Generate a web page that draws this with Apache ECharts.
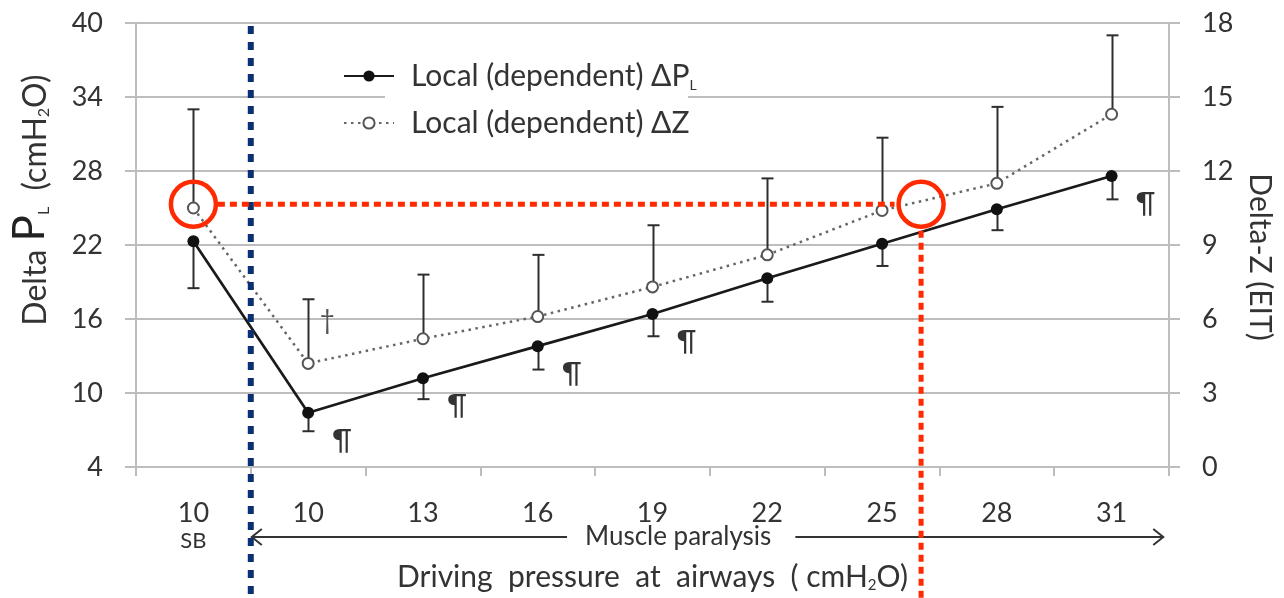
<!DOCTYPE html>
<html>
<head>
<meta charset="utf-8">
<title>Delta PL and Delta-Z versus driving pressure</title>
<script src="https://cdn.jsdelivr.net/npm/echarts@6/dist/echarts.min.js"></script>
<style>
  html, body { margin: 0; padding: 0; background: #ffffff; }
  #chart { width: 1284px; height: 598px; }
</style>
</head>
<body>
<div id="chart"></div>
<script>
// Driving pressure steps (cmH2O); the first one is spontaneous breathing
const pressureLabels = ['10', '10', '13', '16', '19', '22', '25', '28', '31'];
const phaseLabels = ['SB', '', '', '', '', '', '', '', ''];

// Local (dependent) transpulmonary pressure swing, mean and lower SD end
const deltaPL = [22.3, 8.4, 11.2, 13.8, 16.4, 19.3, 22.1, 24.9, 27.6];
const deltaPLLower = [18.5, 6.9, 9.5, 11.9, 14.6, 17.4, 20.3, 23.2, 25.7];

// Local (dependent) impedance change (EIT), mean and upper SD end
const deltaZ = [10.5, 4.2, 5.2, 6.1, 7.3, 8.6, 10.4, 11.5, 14.3];
const deltaZUpper = [14.5, 6.8, 7.8, 8.6, 9.8, 11.7, 13.35, 14.6, 17.5];

// Significance marks
const pilcrowMarks = ['', '¶', '¶', '¶', '¶', '', '', '', '¶'];
const daggerMarks = ['', '†', '', '', '', '', '', '', ''];

// Axis ticks
const leftTicks = [4, 10, 16, 22, 28, 34, 40];
const rightTicks = [0, 3, 6, 9, 12, 15, 18];

// Guide annotations (category positions and Delta-Z level)
const paralysisStart = 0.5;
const paralysisArrowEnd = 8.45;
const paralysisTextPos = 4.25;
const matchedDeltaZ = 10.65;
const matchedPositions = [0, 6.34];

const namePL = 'Local (dependent) ΔPL';
const nameZ = 'Local (dependent) ΔZ';
const FONT = 'Lato, "Open Sans", "DejaVu Sans", sans-serif';
const TEXT = '#333333';
const GRID = '#bdbdbd';

const chart = echarts.init(document.getElementById('chart'), null, { renderer: 'canvas' });

function errorBars(yAxisIndex, means, ends) {
  return {
    type: 'custom',
    xAxisIndex: 0,
    yAxisIndex: yAxisIndex,
    silent: true,
    z: 2,
    data: means.map((v, i) => [i, v, ends[i]]),
    renderItem(params, api) {
      const a = api.coord([api.value(0), api.value(1)]);
      const b = api.coord([api.value(0), api.value(2)]);
      const x = Math.round(a[0]) + 0.5;
      const half = 6;
      const st = { stroke: '#2e2e2e', lineWidth: 2 };
      return {
        type: 'group',
        children: [
          { type: 'line', shape: { x1: x, y1: a[1], x2: x, y2: b[1] }, style: st },
          { type: 'line', shape: { x1: x - half, y1: b[1], x2: x + half, y2: b[1] }, style: st }
        ]
      };
    }
  };
}

function marks(yAxisIndex, means, symbols, dx, dy, size, color) {
  return {
    type: 'custom',
    xAxisIndex: 0,
    yAxisIndex: yAxisIndex,
    silent: true,
    z: 3,
    data: means.map((v, i) => [i, v]),
    renderItem(params, api) {
      const s = symbols[params.dataIndex];
      if (!s) return null;
      const p = api.coord([api.value(0), api.value(1)]);
      return {
        type: 'text',
        x: p[0] + dx,
        y: p[1] + dy,
        style: {
          text: s, fill: color, fontSize: size, fontFamily: FONT,
          align: 'center', verticalAlign: 'middle'
        }
      };
    }
  };
}

const guides = {
  type: 'custom',
  xAxisIndex: 1,
  yAxisIndex: 1,
  silent: true,
  clip: false,
  z: 6,
  data: [[0]],
  renderItem(params, api) {
    const cs = params.coordSys;
    const H = api.getHeight();
    const R = 22.5;
    const c0 = api.coord([matchedPositions[0], matchedDeltaZ]);
    const c1 = api.coord([matchedPositions[1], matchedDeltaZ]);
    const bx = api.coord([paralysisStart, 0])[0];
    const ex = api.coord([paralysisArrowEnd, 0])[0];
    const tx = api.coord([paralysisTextPos, 0])[0];
    const axisY = cs.y + cs.height;
    const ay = axisY + 70;
    const red = '#ff2a00';
    const arrow = { stroke: '#333333', lineWidth: 2, fill: null };
    return {
      type: 'group',
      children: [
        // paralysis timeline arrow
        { type: 'line', shape: { x1: bx + 1, y1: ay, x2: ex, y2: ay }, style: arrow },
        { type: 'polyline', shape: { points: [[bx + 11, ay - 8], [bx + 1, ay], [bx + 11, ay + 8]] }, style: arrow },
        { type: 'polyline', shape: { points: [[ex - 10, ay - 8], [ex, ay], [ex - 10, ay + 8]] }, style: arrow },
        {
          type: 'text', x: tx, y: ay,
          style: {
            text: 'Muscle paralysis', fill: TEXT, fontSize: 26, fontFamily: FONT,
            align: 'center', verticalAlign: 'middle',
            backgroundColor: '#ffffff', padding: [2, 24, 2, 18]
          }
        },
        // onset of paralysis
        { type: 'line', shape: { x1: bx, y1: cs.y + 3, x2: bx, y2: H }, style: { stroke: '#0b2f73', lineWidth: 6, lineDash: [8, 8] } },
        // matched Delta-Z level
        { type: 'line', shape: { x1: c0[0] + R + 2, y1: c0[1], x2: c1[0] - R - 4, y2: c1[1] }, style: { stroke: red, lineWidth: 5, lineDash: [7, 5] } },
        { type: 'line', shape: { x1: c1[0], y1: c1[1] + R + 4, x2: c1[0], y2: H }, style: { stroke: red, lineWidth: 5, lineDash: [7, 5] } },
        { type: 'circle', shape: { cx: c0[0], cy: c0[1], r: R }, style: { stroke: red, lineWidth: 4.5, fill: null } },
        { type: 'circle', shape: { cx: c1[0], cy: c1[1], r: R }, style: { stroke: red, lineWidth: 4.5, fill: null } }
      ]
    };
  }
};

const option = {
  animation: false,
  backgroundColor: '#ffffff',
  textStyle: { fontFamily: FONT },
  grid: { left: 133, right: 115, top: 23, bottom: 127, containLabel: false },
  graphic: [
    { type: 'rect', z: 1, shape: { x: 385, y: 88, width: 303, height: 18 }, style: { fill: '#ffffff' } }
  ],
  legend: {
    data: [namePL, nameZ],
    orient: 'vertical',
    left: 343,
    top: 60,
    padding: 0,
    itemWidth: 50,
    itemHeight: 14,
    itemGap: 15,
    z: 5,
    selectedMode: false,
    formatter: name => name === namePL ? '{g|}Local (dependent) ΔP{sub|L}' : '{g|}' + name,
    textStyle: {
      fontSize: 30, color: TEXT, fontFamily: FONT, lineHeight: 32,
      rich: {
        g: { width: 12 },
        sub: { fontSize: 14, lineHeight: 14, verticalAlign: 'bottom', fontFamily: FONT, color: TEXT }
      }
    }
  },
  xAxis: [
    {
      type: 'category',
      data: pressureLabels.map((p, i) => phaseLabels[i] ? p + '\n' + phaseLabels[i] : p),
      boundaryGap: true,
      axisLine: { show: true, lineStyle: { color: GRID, width: 2 } },
      axisTick: { show: true, length: 9, interval: 0, lineStyle: { color: GRID, width: 2 } },
      splitLine: { show: false },
      axisLabel: {
        interval: 0,
        margin: 31,
        formatter: v => {
          const parts = v.split('\n');
          return parts.length > 1 ? '{n|' + parts[0] + '}\n{s|' + parts[1] + '}' : '{n|' + v + '}';
        },
        rich: {
          n: { fontSize: 27, lineHeight: 30, color: TEXT, fontFamily: FONT },
          s: { fontSize: 22, lineHeight: 26, color: TEXT, fontFamily: FONT }
        }
      },
      name: 'Driving  pressure  at  airways  ( cmH{sub|2}O)',
      nameLocation: 'middle',
      nameGap: 94,
      nameTextStyle: {
        fontSize: 30, color: TEXT, fontFamily: FONT, lineHeight: 32,
        rich: { sub: { fontSize: 15, lineHeight: 15, verticalAlign: 'bottom', color: TEXT, fontFamily: FONT } }
      }
    },
    { type: 'value', min: -0.5, max: 8.5, show: false }
  ],
  yAxis: [
    {
      type: 'value',
      position: 'left',
      min: 4, max: 40, interval: 6,
      axisLine: { show: true, onZero: false, lineStyle: { color: GRID, width: 2 } },
      axisTick: { show: true, length: 11, customValues: leftTicks, lineStyle: { color: GRID, width: 2 } },
      splitLine: { show: true, lineStyle: { color: GRID, width: 2 } },
      axisLabel: { customValues: leftTicks, margin: 33, fontSize: 27, color: TEXT, fontFamily: FONT },
      name: '{n|Delta }{p|P}{sub|L}{n|  (cmH}{sub|2}{n|O)}',
      nameLocation: 'middle',
      nameRotate: 90,
      nameGap: 84,
      nameTextStyle: {
        padding: [0, 0, 0, 90],
        rich: {
          n: { fontSize: 32, lineHeight: 36, verticalAlign: 'bottom', color: TEXT, fontFamily: FONT },
          p: { fontSize: 44, lineHeight: 44, verticalAlign: 'bottom', color: '#222', fontFamily: FONT },
          sub: { fontSize: 16, lineHeight: 16, verticalAlign: 'bottom', color: TEXT, fontFamily: FONT }
        }
      }
    },
    {
      type: 'value',
      position: 'right',
      min: 0, max: 18, interval: 3,
      axisLine: { show: true, onZero: false, lineStyle: { color: GRID, width: 2 } },
      axisTick: { show: true, length: 11, customValues: rightTicks, lineStyle: { color: GRID, width: 2 } },
      splitLine: { show: false },
      axisLabel: { customValues: rightTicks, margin: 33, fontSize: 27, color: TEXT, fontFamily: FONT },
      name: 'Delta-Z (EIT)',
      nameLocation: 'middle',
      nameRotate: -90,
      nameGap: 76,
      nameTextStyle: { fontSize: 30, color: TEXT, fontFamily: FONT, padding: [0, 0, 0, 24] }
    }
  ],
  series: [
    errorBars(0, deltaPL, deltaPLLower),
    errorBars(1, deltaZ, deltaZUpper),
    {
      name: nameZ,
      type: 'line',
      xAxisIndex: 0,
      yAxisIndex: 1,
      data: deltaZ,
      z: 3,
      symbol: 'emptyCircle',
      symbolSize: 11,
      itemStyle: { color: '#555555', borderWidth: 2 },
      lineStyle: { color: '#666666', width: 2.5, type: [2.5, 4.5] }
    },
    {
      name: namePL,
      type: 'line',
      xAxisIndex: 0,
      yAxisIndex: 0,
      data: deltaPL,
      z: 4,
      symbol: 'circle',
      symbolSize: 12,
      itemStyle: { color: '#111111' },
      lineStyle: { color: '#1a1a1a', width: 2.7 }
    },
    marks(0, deltaPL, pilcrowMarks, 34, 28, 28, '#333333'),
    marks(1, deltaZ, daggerMarks, 19, -43, 26, '#555555'),
    guides
  ]
};

chart.setOption(option);
</script>
</body>
</html>
